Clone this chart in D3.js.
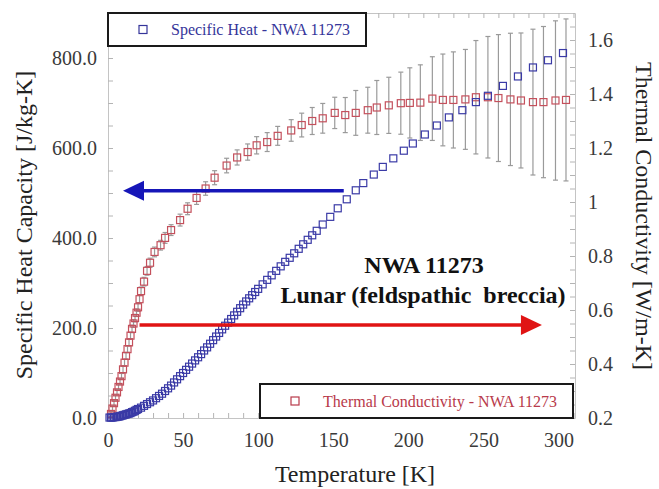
<!DOCTYPE html>
<html>
<head>
<meta charset="utf-8">
<script src="https://cdn.jsdelivr.net/npm/d3@7"></script>
<style>
  body { margin: 0; background: #fff; }
  svg { display: block; }
  svg text { font-family: "Liberation Serif", "Times New Roman", "DejaVu Serif", serif; }
  .minor .domain { stroke: #c4c4c4; }
  .minor line { stroke: #b4b4b4; }
  .lab .domain { display: none; }
  .lab text { font-size: 20px; fill: #3a3a3a; }
</style>
</head>
<body>
<svg id="svg" width="659" height="489"></svg>
<script>
// specific heat, NWA 11273 (left axis)
const heatTemp = [1,2,3,4,5,6,7,8,9,10,11,12,13,14,15,16,17,18,19,20,22,24,26,28,30,32,34,36,38,40,42,44,46,48,50,52,54,56,58,60,62,64,66,68,70,72,74,76,78,80,82,84,86,88,90,92,94,96,98,100,103,106,109,112,115,118,121,124,127,130,133,136,139,143,148,153,159,165,170,177,183,190,197,203,211,219,227,236,245,253,263,273,283,293,303];
const heatVal = [1,1,1,2,2,3,3,4,5,6,7,8,9,10,11,13,14,16,18,20,23,27,31,35,39,44,49,54,60,66,72,79,86,93,100,107,114,121,128,135,142,150,157,165,173,181,189,197,205,212,220,228,236,244,252,259,266,273,280,287,297,307,317,327,337,347,356,366,376,386,396,406,416,430,447,466,486,506,522,541,558,577,594,610,630,650,668,684,702,716,738,759,779,795,811];

// thermal conductivity, NWA 11273 (right axis)
const condTemp = [2,3,4,5,6,7,8,9,10,11,12,13,14,15,16,17,18,19,20,21,22,24,26,28,31,35,38,42,48,53,59,65,71,79,86,93,99,106,113,122,129,136,143,151,158,165,173,179,187,195,201,208,216,223,230,238,245,253,260,268,275,283,290,298,305];
const condVal = [0.215,0.235,0.255,0.275,0.295,0.315,0.335,0.355,0.38,0.405,0.43,0.455,0.48,0.505,0.53,0.55,0.57,0.59,0.61,0.64,0.67,0.705,0.745,0.775,0.815,0.84,0.867,0.896,0.933,0.975,1.015,1.05,1.09,1.135,1.165,1.185,1.21,1.222,1.245,1.265,1.285,1.3,1.31,1.33,1.322,1.33,1.34,1.35,1.358,1.366,1.367,1.368,1.383,1.378,1.378,1.38,1.388,1.388,1.385,1.38,1.376,1.37,1.37,1.376,1.378];
const condErr = [0.01,0.01,0.01,0.01,0.01,0.01,0.01,0.01,0.012,0.012,0.012,0.012,0.012,0.012,0.014,0.014,0.014,0.014,0.015,0.015,0.015,0.016,0.016,0.017,0.018,0.018,0.02,0.02,0.022,0.022,0.024,0.025,0.026,0.027,0.028,0.03,0.032,0.035,0.035,0.04,0.044,0.05,0.055,0.058,0.065,0.083,0.085,0.1,0.104,0.115,0.13,0.14,0.155,0.17,0.178,0.185,0.21,0.225,0.235,0.245,0.25,0.27,0.28,0.295,0.3];

const tempTicks = [0,50,100,150,200,250,300];
const heatTicks = [0,200,400,600,800];
const condTicks = [0.2,0.4,0.6,0.8,1,1.2,1.4,1.6];

const serif = "'Liberation Serif', 'Times New Roman', 'DejaVu Serif', serif";
const svg = d3.select("#svg"),
    L = 108, R = 575, T = 13, B = 418,
    x = d3.scaleLinear().domain([0, 311]).range([L, R]),
    yL = d3.scaleLinear().domain([0, 900]).range([B, T]),
    yR = d3.scaleLinear().domain([0.2, 1.7]).range([B, T]);

// frame + inward minor ticks
svg.append("g").attr("class", "minor").attr("transform", `translate(0,${B})`)
    .call(d3.axisBottom(x).tickValues(d3.range(0, 311, 10)).tickSize(-5).tickSizeOuter(0).tickFormat(""));
svg.append("g").attr("class", "minor").attr("transform", `translate(0,${T})`)
    .call(d3.axisTop(x).tickValues(d3.range(0, 311, 10)).tickSize(-5).tickSizeOuter(0).tickFormat(""));
svg.append("g").attr("class", "minor").attr("transform", `translate(${L},0)`)
    .call(d3.axisLeft(yL).tickValues(d3.range(0, 901, 50)).tickSize(-5).tickSizeOuter(0).tickFormat(""));
svg.append("g").attr("class", "minor").attr("transform", `translate(${R},0)`)
    .call(d3.axisRight(yR).tickValues(d3.range(0.2, 1.7, 0.05)).tickSize(-5).tickSizeOuter(0).tickFormat(""));

// tick labels
svg.append("g").attr("class", "lab").attr("transform", `translate(0,${B})`)
    .call(d3.axisBottom(x).tickValues(tempTicks).tickSize(0).tickPadding(15));
svg.append("g").attr("class", "lab").attr("transform", `translate(${L},0)`)
    .call(d3.axisLeft(yL).tickValues(heatTicks).tickSize(0).tickPadding(11).tickFormat(d3.format(".1f")));
svg.append("g").attr("class", "lab").attr("transform", `translate(${R},0)`)
    .call(d3.axisRight(yR).tickValues(condTicks).tickSize(0).tickPadding(13).tickFormat(d => String(d)));
svg.selectAll(".lab").attr("font-family", serif);

// axis titles
svg.append("text").attr("x", 355).attr("y", 482).attr("text-anchor", "middle")
    .style("font-size", "24px").style("fill", "#222").text("Temperature [K]");
svg.append("text").attr("transform", "translate(32,225) rotate(-90)").attr("text-anchor", "middle")
    .style("font-size", "24px").style("fill", "#222").text("Specific Heat Capacity [J/kg-K]");
svg.append("text").attr("transform", "translate(636,216) rotate(90)").attr("text-anchor", "middle")
    .style("font-size", "24px").style("fill", "#222").text("Thermal Conductivity [W/m-K]");

// conductivity error bars
const cond = condTemp.map((t, i) => ({t: t, v: condVal[i], e: condErr[i]}));
const eb = svg.append("g").style("stroke", "#9a9a9a").style("stroke-width", 1.2);
eb.selectAll("line.v").data(cond).join("line").attr("class", "v")
    .attr("x1", d => x(d.t)).attr("x2", d => x(d.t))
    .attr("y1", d => yR(d.v - d.e)).attr("y2", d => yR(d.v + d.e));
eb.selectAll("line.top").data(cond).join("line").attr("class", "top")
    .attr("x1", d => x(d.t) - 2.5).attr("x2", d => x(d.t) + 2.5)
    .attr("y1", d => yR(d.v + d.e)).attr("y2", d => yR(d.v + d.e));
eb.selectAll("line.bot").data(cond).join("line").attr("class", "bot")
    .attr("x1", d => x(d.t) - 2.5).attr("x2", d => x(d.t) + 2.5)
    .attr("y1", d => yR(d.v - d.e)).attr("y2", d => yR(d.v - d.e));

const S = 7;
svg.append("g").selectAll("rect").data(cond).join("rect")
    .attr("x", d => x(d.t) - S / 2).attr("y", d => yR(d.v) - S / 2)
    .attr("width", S).attr("height", S)
    .style("fill", "none").style("stroke", "#c4505c").style("stroke-width", 1.2);

const heat = heatTemp.map((t, i) => ({t: t, v: heatVal[i]}));
svg.append("g").selectAll("rect").data(heat).join("rect")
    .attr("x", d => x(d.t) - S / 2).attr("y", d => yL(d.v) - S / 2)
    .attr("width", S).attr("height", S)
    .style("fill", "none").style("stroke", "#3a3aa6").style("stroke-width", 1.2);

// arrows pointing to each series' axis
function arrow(x0, x1, y, col) {
    const dir = x1 > x0 ? 1 : -1;
    svg.append("line").attr("x1", x0).attr("x2", x1 - dir * 18).attr("y1", y).attr("y2", y)
        .style("stroke", col).style("stroke-width", 3.5);
    svg.append("path").attr("d", `M${x1},${y}L${x1 - dir * 21},${y - 10}L${x1 - dir * 21},${y + 10}Z`).style("fill", col);
}
arrow(x(157), x(10), yL(505), "#1616b8");
arrow(x(21), x(289), yR(0.544), "#e01414");

// annotation
svg.append("text").attr("x", 424).attr("y", 273).attr("text-anchor", "middle")
    .style("font-size", "24px").style("font-weight", "bold").style("fill", "#111").text("NWA 11273");
svg.append("text").attr("x", 423).attr("y", 303).attr("text-anchor", "middle")
    .style("font-size", "24px").style("font-weight", "bold").style("fill", "#111").style("white-space", "pre")
    .text("Lunar (feldspathic  breccia)");

// legends
function legend(bx, by, bw, bh, label, col) {
    const g = svg.append("g");
    g.append("rect").attr("x", bx).attr("y", by).attr("width", bw).attr("height", bh)
        .style("fill", "#fff").style("stroke", "#1a1a1a").style("stroke-width", 2);
    g.append("rect").attr("x", bx + 31).attr("y", by + bh / 2 - 4).attr("width", 8).attr("height", 8)
        .style("fill", "none").style("stroke", col).style("stroke-width", 1.2);
    g.append("text").attr("x", bx + 63).attr("y", by + bh / 2 + 5.5)
        .style("font-size", "16px").style("fill", col).text(label);
}
legend(L, T, 258, 33, "Specific Heat - NWA 11273", "#35359a");
legend(260, 384, 313, 34, "Thermal Conductivity - NWA 11273", "#b83a4a");
svg.selectAll("text").style("font-family", serif);
</script>
</body>
</html>
